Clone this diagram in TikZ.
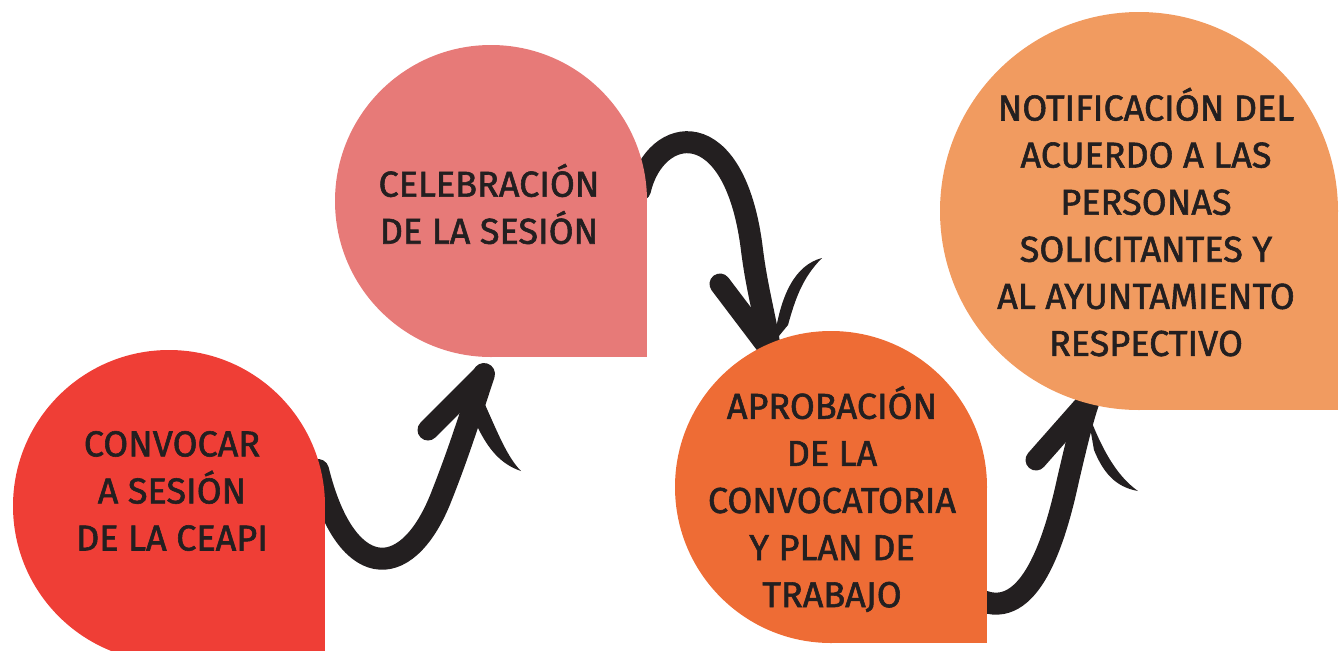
\documentclass[tikz,border=0pt]{standalone}
\usepackage{fontspec}
\setmainfont{Fira Sans}
\newfontfamily\bubblefont{Fira Sans}[FakeBold=1.6]
\definecolor{rojo}{HTML}{EF3E36}
\definecolor{rosa}{HTML}{E77A78}
\definecolor{naranja}{HTML}{EE6C35}
\definecolor{melon}{HTML}{F19B60}
\definecolor{tinta}{HTML}{231F20}
\begin{document}
\begin{tikzpicture}[
			x=0.02cm, y=-0.02cm,
			label text/.style={align=center, text=tinta, font=\bubblefont\fontsize{20.5}{26.8}\selectfont},
			stroke/.style={draw=tinta, line width=0.44cm, line cap=round},
			barb/.style={draw=tinta, line width=0.42cm, line cap=round}
		]
		\useasboundingbox (0,0) rectangle (1340,650);
		% arrows first, so the bubbles hide their tails
		\coordinate (s1) at (318,470);
		\coordinate (t1) at (484,374);
		\coordinate (s2) at (640,190);
		\coordinate (t2) at (770,350);
		\coordinate (s3) at (980,600);
		\coordinate (t3) at (1089,400);
		\draw[stroke] (s1) .. controls (345,580) and (405,585) .. (440,500)
			.. controls (460,450) and (472,410) .. (t1);
		\draw[barb] (t1) -- (428,430);
		\fill[tinta] (476,385) .. controls (495,425) and (505,455) .. (521,471)
			.. controls (500,464) and (488,448) .. (478,428) -- cycle;
		\draw[stroke] (s2) .. controls (655,125) and (735,110) .. (752,250)
			.. controls (757,290) and (766,320) .. (t2);
		\draw[barb] (t2) -- (720,284);
		\fill[tinta] (774,342) .. controls (780,295) and (795,265) .. (822,258)
			.. controls (802,278) and (795,300) .. (788,325) -- cycle;
		\draw[stroke] (s3) .. controls (1030,622) and (1055,540) .. (1068,480)
			.. controls (1075,450) and (1082,420) .. (t3);
		\draw[barb] (t3) -- (1036,460);
		\fill[tinta] (1087,410) .. controls (1100,445) and (1115,475) .. (1138,491)
			.. controls (1115,487) and (1103,472) .. (1094,450) -- cycle;
		% bubbles
		\fill[rojo] (169,506) circle (156);
		\fill[rojo] (169,506) rectangle ++(156,156);
		\fill[rosa] (491,201) circle (156);
		\fill[rosa] (491,201) rectangle ++(156,156);
		\fill[naranja] (831,487) circle (156);
		\fill[naranja] (831,487) rectangle ++(156,156);
		\fill[melon] (1139,211) circle (199);
		\fill[melon] (1139,211) rectangle ++(199,199);
		% texts
		\node[label text] (convocar) at (172,491) {CONVOCAR\\A SESIÓN\\DE LA CEAPI};
		\node[label text] (celebracion) at (489,204) {CELEBRACIÓN\\DE LA SESIÓN};
		\node[label text] (aprobacion) at (832,499) {APROBACIÓN\\DE LA\\CONVOCATORIA\\Y PLAN DE\\TRABAJO};
		\node[label text] (notificacion) at (1146,222) {NOTIFICACIÓN DEL\\ACUERDO A LAS\\PERSONAS\\SOLICITANTES Y\\AL AYUNTAMIENTO\\RESPECTIVO};
	\end{tikzpicture}
\end{document}
